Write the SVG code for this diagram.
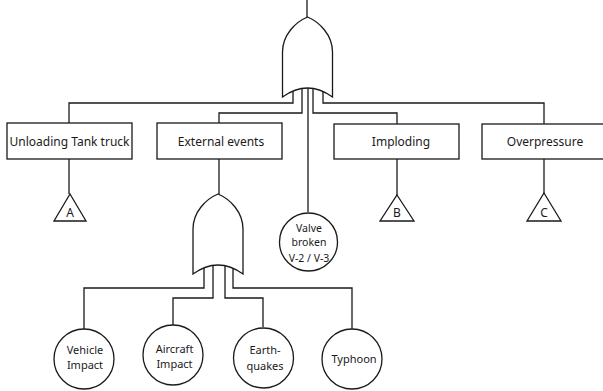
<svg xmlns="http://www.w3.org/2000/svg" width="603" height="391" viewBox="0 0 603 391">
<style>
.ln{fill:none;stroke:#1a1a1a;stroke-width:1.3}
.bx{fill:#fff;stroke:#1a1a1a;stroke-width:1.3}
.t{font-family:"Noto Sans","Open Sans",sans-serif;fill:#1a1a1a;text-anchor:middle}
.bt{font-size:12px}
.ct{font-size:11px}
.vt{font-size:10.5px}
</style>
<defs>
<path id="orgate" d="M-25,80 L-25,35 C-25,18 -12,5 0,0 C12,5 25,18 25,35 L25,80 Q0,62 -25,80 Z" class="bx"/>
</defs>
<rect width="603" height="391" fill="#fff"/>
<g id="connectors">
<path class="ln" d="M307,0 V17"/>
<path class="ln" d="M293,88 V103 H69 V123"/>
<path class="ln" d="M302,88 V113 H219 V123"/>
<path class="ln" d="M308,88 V212"/>
<path class="ln" d="M313,88 V113 H397 V124"/>
<path class="ln" d="M323,88 V103 H544 V124"/>
<path class="ln" d="M69,159 V194"/>
<path class="ln" d="M219,159 V194"/>
<path class="ln" d="M397,159 V195"/>
<path class="ln" d="M544,159 V193"/>
<path class="ln" d="M204,265 V288 H84 V329"/>
<path class="ln" d="M213,265 V298 H173 V325"/>
<path class="ln" d="M225,265 V298 H263 V327"/>
<path class="ln" d="M233,265 V288 H352 V329"/>
</g>
<g id="gate-top"><use href="#orgate" x="307.5" y="17"/></g>
<g id="gate-external"><use href="#orgate" x="218" y="194"/></g>
<g id="unloading">
<rect class="bx" x="7" y="123" width="125" height="36"/>
<text class="t bt" x="69.5" y="146">Unloading Tank truck</text>
</g>
<g id="external">
<rect class="bx" x="157" y="123" width="125" height="36"/>
<text class="t bt" x="221" y="146">External events</text>
</g>
<g id="imploding">
<rect class="bx" x="334" y="124" width="125" height="35"/>
<text class="t bt" x="401" y="146">Imploding</text>
</g>
<g id="overpressure">
<rect class="bx" x="482" y="124" width="130" height="35"/>
<text class="t bt" x="545" y="146">Overpressure</text>
</g>
<g id="tri-a">
<path class="bx" d="M70,194 L86,221 L54,221 Z"/>
<text class="t bt" x="70" y="217">A</text>
</g>
<g id="tri-b">
<path class="bx" d="M397,195 L414,221 L380,221 Z"/>
<text class="t bt" x="397" y="217">B</text>
</g>
<g id="tri-c">
<path class="bx" d="M544,193 L561,221 L527,221 Z"/>
<text class="t bt" x="544" y="217">C</text>
</g>
<g id="valve">
<circle class="bx" cx="308.5" cy="242" r="29"/>
<text class="t vt" x="309" y="232">Valve</text>
<text class="t vt" x="309" y="246">broken</text>
<text class="t vt" x="309" y="262">V-2 / V-3</text>
</g>
<g id="vehicle">
<circle class="bx" cx="84" cy="359" r="30"/>
<text class="t ct" x="85" y="354">Vehicle</text>
<text class="t ct" x="85" y="369">Impact</text>
</g>
<g id="aircraft">
<circle class="bx" cx="173" cy="355" r="30"/>
<text class="t ct" x="174.5" y="353">Aircraft</text>
<text class="t ct" x="174.5" y="368">Impact</text>
</g>
<g id="earthquakes">
<circle class="bx" cx="263.5" cy="358" r="30"/>
<text class="t ct" x="265" y="354">Earth-</text>
<text class="t ct" x="265" y="370">quakes</text>
</g>
<g id="typhoon">
<circle class="bx" cx="352" cy="359" r="30"/>
<text class="t ct" x="354" y="363">Typhoon</text>
</g>
</svg>
